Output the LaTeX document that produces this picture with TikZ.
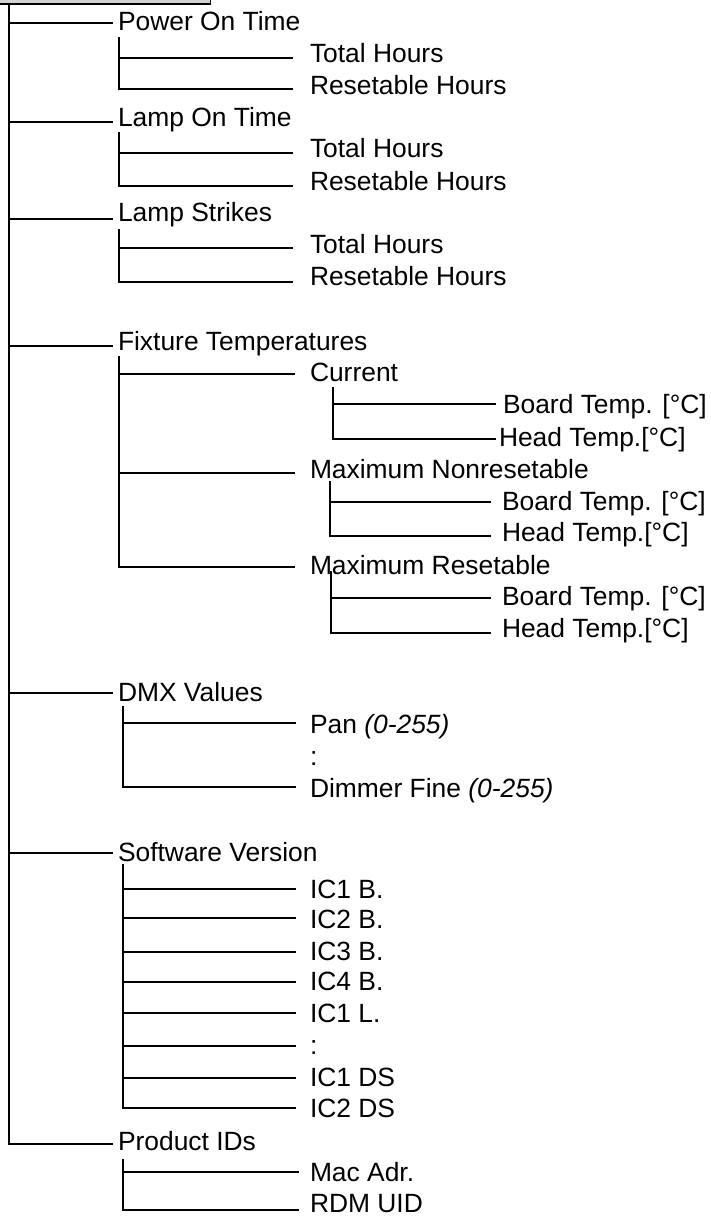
\documentclass[tikz,border=0pt]{standalone}
\usepackage{fontspec}
\setmainfont{Liberation Sans}
\definecolor{boxgray}{RGB}{210,210,210}
\tikzset{
  lbl/.style={anchor=base west, inner sep=0pt, outer sep=0pt, font=\fontsize{26.4}{30}\selectfont},
  ln/.style={line width=1.7pt, line cap=rect, black},
  topbox/.style={fill=boxgray, draw=black, line width=1.2pt}
}
% name, x0, x1, line y, text x, baseline, text
\newcommand\leafline[7]{%
  \node[lbl] (#1) at (#5,#6) {#7};
  \coordinate (#1-a) at (#2,#4);
  \coordinate (#1-b) at (#3,#4);
  \draw[ln] (#1-a) -- (#1-b);}
\begin{document}
\begin{tikzpicture}[x=1pt,y=-1pt]
\useasboundingbox (0,0) rectangle (711,1216);
% top box (cut off)
\node[topbox, minimum width=215pt, minimum height=8pt, anchor=south east, inner sep=0pt] (root) at (211,4.5) {};
\coordinate (main-top) at (8.7,4.5);
% ---- level 1
\leafline{pot}{8.7}{112}{23.3}{118}{30}{Power On Time}
\leafline{lot}{8.7}{112}{122.3}{118}{126.7}{Lamp On Time}
\leafline{ls}{8.7}{112}{219}{118}{221.7}{Lamp Strikes}
\leafline{ft}{8.7}{112}{346}{118}{350}{Fixture Temperatures}
\leafline{dmx}{8.7}{112}{692.7}{118}{701.7}{DMX Values}
\leafline{sv}{8.7}{112}{853.3}{118}{861.7}{Software Version}
\leafline{pid}{8.7}{112}{1144}{118}{1150}{Product IDs}
\draw[ln] (main-top) -- (pid-a);
% ---- Power On Time
\coordinate (g1-top) at (119.3,38);
\leafline{pot1}{119.3}{292}{58.3}{310}{62}{Total Hours}
\leafline{pot2}{119.3}{292}{89.3}{310}{94}{Resetable Hours}
\draw[ln] (g1-top) -- (pot2-a);
% ---- Lamp On Time
\coordinate (g2-top) at (119.3,133.3);
\leafline{lot1}{119.3}{292}{153.3}{310}{157}{Total Hours}
\leafline{lot2}{119.3}{292}{185.7}{310}{190}{Resetable Hours}
\draw[ln] (g2-top) -- (lot2-a);
% ---- Lamp Strikes
\coordinate (g3-top) at (119.3,230);
\leafline{ls1}{119.3}{292}{248.3}{310}{253.3}{Total Hours}
\leafline{ls2}{119.3}{292}{282.3}{310}{285}{Resetable Hours}
\draw[ln] (g3-top) -- (ls2-a);
% ---- Fixture Temperatures
\coordinate (g4-top) at (119.3,357.3);
\leafline{cur}{119.3}{294}{374}{310}{381.7}{Current}
\leafline{mnr}{119.3}{294}{472.7}{310}{478.3}{Maximum Nonresetable}
\leafline{mr}{119.3}{294}{566.7}{310}{574.3}{Maximum Resetable}
\draw[ln] (g4-top) -- (mr-a);
% Current
\coordinate (g4a-top) at (333.3,388.3);
\leafline{cur1}{333.3}{495}{404.3}{503}{413.3}{Board Temp. [°C]}
\leafline{cur2}{333.3}{495}{439.3}{499}{446}{Head Temp.[°C]}
\draw[ln] (g4a-top) -- (cur2-a);
% Maximum Nonresetable
\coordinate (g4b-top) at (330,481.7);
\leafline{mnr1}{330}{490}{501.7}{502}{510.7}{Board Temp. [°C]}
\leafline{mnr2}{330}{490}{535.7}{502}{541.7}{Head Temp.[°C]}
\draw[ln] (g4b-top) -- (mnr2-a);
% Maximum Resetable
\coordinate (g4c-top) at (331,571.7);
\leafline{mr1}{331}{490}{598.3}{502}{605.7}{Board Temp. [°C]}
\leafline{mr2}{331}{490}{632.7}{502}{637.7}{Head Temp.[°C]}
\draw[ln] (g4c-top) -- (mr2-a);
% ---- DMX Values
\coordinate (g5-top) at (123.3,707.3);
\leafline{pan}{123.3}{295}{722.7}{310}{733.5}{Pan \textit{(0-255)}}
\node[lbl] (dmxdots) at (310,765) {:};
\leafline{dim}{123.3}{295}{786.7}{310}{797}{Dimmer Fine \textit{(0-255)}}
\draw[ln] (g5-top) -- (dim-a);
% ---- Software Version
\coordinate (g6-top) at (123.3,865);
\leafline{ic1b}{123.3}{295}{889.3}{310}{898.3}{IC1 B.}
\leafline{ic2b}{123.3}{295}{918.3}{310}{928.3}{IC2 B.}
\leafline{ic3b}{123.3}{295}{951.7}{310}{960}{IC3 B.}
\leafline{ic4b}{123.3}{295}{981.7}{310}{990}{IC4 B.}
\leafline{ic1l}{123.3}{295}{1013.3}{310}{1022.3}{IC1 L.}
\leafline{svdots}{123.3}{295}{1046}{310}{1054}{:}
\leafline{ic1ds}{123.3}{295}{1078.3}{310}{1086.7}{IC1 DS}
\leafline{ic2ds}{123.3}{295}{1108.3}{310}{1117.7}{IC2 DS}
\draw[ln] (g6-top) -- (ic2ds-a);
% ---- Product IDs
\coordinate (g7-top) at (123.3,1160);
\leafline{mac}{123.3}{298}{1172.3}{310}{1181.7}{Mac Adr.}
\leafline{rdm}{123.3}{298}{1210}{310}{1212.7}{RDM UID}
\draw[ln] (g7-top) -- (rdm-a);
\end{tikzpicture}
\end{document}
